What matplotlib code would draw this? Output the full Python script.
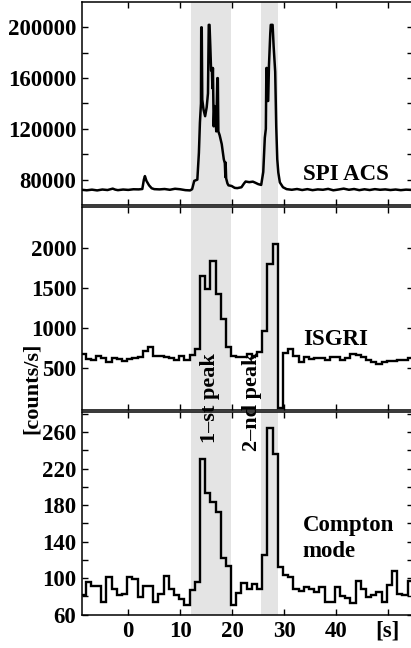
import matplotlib
matplotlib.use("Agg")
import matplotlib.pyplot as plt
from matplotlib.ticker import FixedLocator, NullFormatter
import numpy as np

# SPI ACS light curve (time [s], counts/s)
acs_t = [-9.0, -8.0, -7.0, -6.0, -5.0, -4.0, -3.0, -2.5, -2.0, -1.0, 0.0, 1.0, 2.0,
         2.7, 3.0, 3.2, 3.5, 4.0, 4.5, 5.0, 6.0, 7.0, 8.0, 9.0, 10.0, 11.0, 11.9,
         12.3, 12.7, 13.3, 13.6, 13.8, 14.0, 14.05, 14.15, 14.25, 14.5, 14.8, 15.1,
         15.35, 15.5, 15.65, 15.8, 15.95, 16.1, 16.2, 16.3, 16.45, 16.6, 16.8, 16.95,
         17.15, 17.25, 17.35, 17.6, 18.0, 18.4, 18.6, 18.7, 18.75, 18.85, 19.1, 19.3,
         19.9, 20.5, 21.0, 21.8, 22.3, 22.6, 23.3, 24.0, 24.5, 25.0, 25.6, 26.0, 26.3,
         26.5, 26.6, 26.7, 26.8, 26.95, 27.1, 27.35, 27.45, 27.8, 28.0, 28.3, 28.5,
         28.7, 28.9, 29.2, 29.8, 30.5, 31.5, 32.5, 33.5, 34.5, 35.5, 36.5, 37.5, 38.5,
         39.5, 40.5, 41.5, 42.5, 43.5, 44.5, 45.5, 46.5, 47.5, 48.5, 49.5, 50.5, 51.5,
         52.5, 53.5, 54.5]
acs_rate = [72000, 71600, 72100, 71500, 72200, 71800, 72900, 72100, 71700, 72200, 71900,
            72400, 72300, 72600, 80000, 82800, 79000, 75500, 73200, 72500, 72300, 72600,
            72000, 72800, 72400, 71700, 71500, 72500, 79000, 80000, 101000, 125000,
            140000, 200000, 200000, 143000, 135000, 130000, 137000, 148000, 202000,
            202000, 185000, 166000, 168000, 152000, 168000, 122000, 138000, 128000,
            118000, 160000, 160000, 118000, 115000, 108000, 96000, 93000, 82000, 93500,
            81000, 77000, 75500, 75000, 73500, 73300, 74000, 77000, 78500, 78000, 78400,
            77500, 76500, 75800, 86000, 113000, 120000, 168000, 168000, 142000, 142000,
            170000, 195000, 202000, 202000, 185000, 165000, 122000, 96000, 85600, 77800,
            74000, 72500, 72000, 72600, 71800, 72500, 71700, 72300, 72000, 72700, 71600,
            72200, 72900, 72000, 72600, 71700, 72400, 71800, 72500, 72000, 72300, 71800,
            72200, 71700, 72100, 71900]

# ISGRI and SPI Compton mode, 1-s bins starting at -9.2 s
bin_start = -9.2
bin_width = 1.0
isgri_rate = [677, 616, 610, 649, 625, 582, 625, 616, 592, 616, 625, 645, 719, 768,
              656, 649, 640, 633, 604, 656, 608, 664, 748, 1657, 1491, 1846, 1430,
              1111, 768, 656, 637, 637, 685, 660, 706, 966, 1805, 2053, 0, 690, 739,
              656, 582, 637, 620, 625, 630, 608, 637, 637, 608, 625, 677, 665, 645,
              604, 582, 558, 582, 592, 592, 600, 600, 625]
compton_rate = [81, 95.6, 91, 91, 74, 101, 88, 81, 82, 101, 98.5, 79, 91, 91, 74, 83,
                102, 88, 81, 77, 70, 86.5, 96, 230, 193, 183.6, 172, 122, 113, 70, 84,
                94.5, 88, 94, 88, 125, 264, 236, 112, 103, 101, 88, 86, 90, 88, 85, 90,
                74, 74, 90, 80, 78, 73, 97, 88, 79, 81, 85, 74, 92, 108, 83, 81, 97]

peak_spans = [(12.1, 19.8), (25.5, 28.8)]
x_ticks = [0, 10, 20, 30, 40, 50]
x_ticklabels = ["0", "10", "20", "30", "40", "[s]"]

plt.rcParams["font.family"] = ["Liberation Serif", "DejaVu Serif"]
plt.rcParams["font.weight"] = "bold"
plt.rcParams["font.size"] = 16

W, H = 411, 648
fig = plt.figure(figsize=(W / 100, H / 100), dpi=100)


def panel(y_top, y_bot):
    # pixel rows -> figure fraction
    return fig.add_axes([82 / W, 1 - y_bot / H, 331 / W, (y_bot - y_top) / H])


ax_acs = panel(2, 205)
ax_isg = panel(207.5, 410)
ax_cmp = panel(412, 615)

edges = bin_start + bin_width * np.arange(len(isgri_rate) + 1)

ax_acs.plot(acs_t, acs_rate, color="black", lw=1.8)
ax_isg.stairs(isgri_rate, edges, baseline=None, color="black", lw=1.7)
ax_cmp.stairs(compton_rate, edges, baseline=None, color="black", lw=1.7)

for ax in (ax_acs, ax_isg, ax_cmp):
    for x0, x1 in peak_spans:
        ax.axvspan(x0, x1, color="#e4e4e4", lw=0, zorder=0)
    ax.set_xlim(-8.92, 54.85)
    ax.set_xticks(x_ticks)
    ax.tick_params(which="both", direction="in", length=4, width=1,
                   top=True, right=True, labelsize=16.5, pad=4)
    for s in ax.spines.values():
        s.set_linewidth(1.1)
    if ax is not ax_cmp:
        ax.set_xticklabels([])

ax_cmp.set_xticklabels(x_ticklabels)

ax_acs.set_ylim(60000, 220000)
ax_acs.set_yticks([80000, 120000, 160000, 200000])
ax_acs.yaxis.set_minor_locator(FixedLocator([100000, 140000, 180000]))

ax_isg.set_ylim(-20, 2510)
ax_isg.set_yticks([500, 1000, 1500, 2000])

ax_cmp.set_ylim(59.5, 282)
ax_cmp.set_yticks([60, 100, 140, 180, 220, 260])
ax_cmp.yaxis.set_minor_locator(FixedLocator([80, 120, 160, 200, 240, 280]))
ax_cmp.yaxis.set_minor_formatter(NullFormatter())

ax_acs.text(0.667, 0.123, "SPI ACS", transform=ax_acs.transAxes, fontsize=16.5)
ax_isg.text(0.667, 0.322, "ISGRI", transform=ax_isg.transAxes, fontsize=16.5)
ax_cmp.text(0.667, 0.413, "Compton", transform=ax_cmp.transAxes, fontsize=16.5)
ax_cmp.text(0.667, 0.286, "mode", transform=ax_cmp.transAxes, fontsize=16.5)

fig.text(210 / W, 1 - 398 / H, "1\u2013st peak", rotation=90, ha="center", va="center",
         fontsize=16, zorder=10)
fig.text(252 / W, 1 - 402 / H, "2\u2013nd peak", rotation=90, ha="center", va="center",
         fontsize=16, zorder=10)
fig.text(32 / W, 1 - 388 / H, "[counts/s]", rotation=90, ha="center", va="center",
         fontsize=16)

fig.savefig("out.png", dpi=100)
